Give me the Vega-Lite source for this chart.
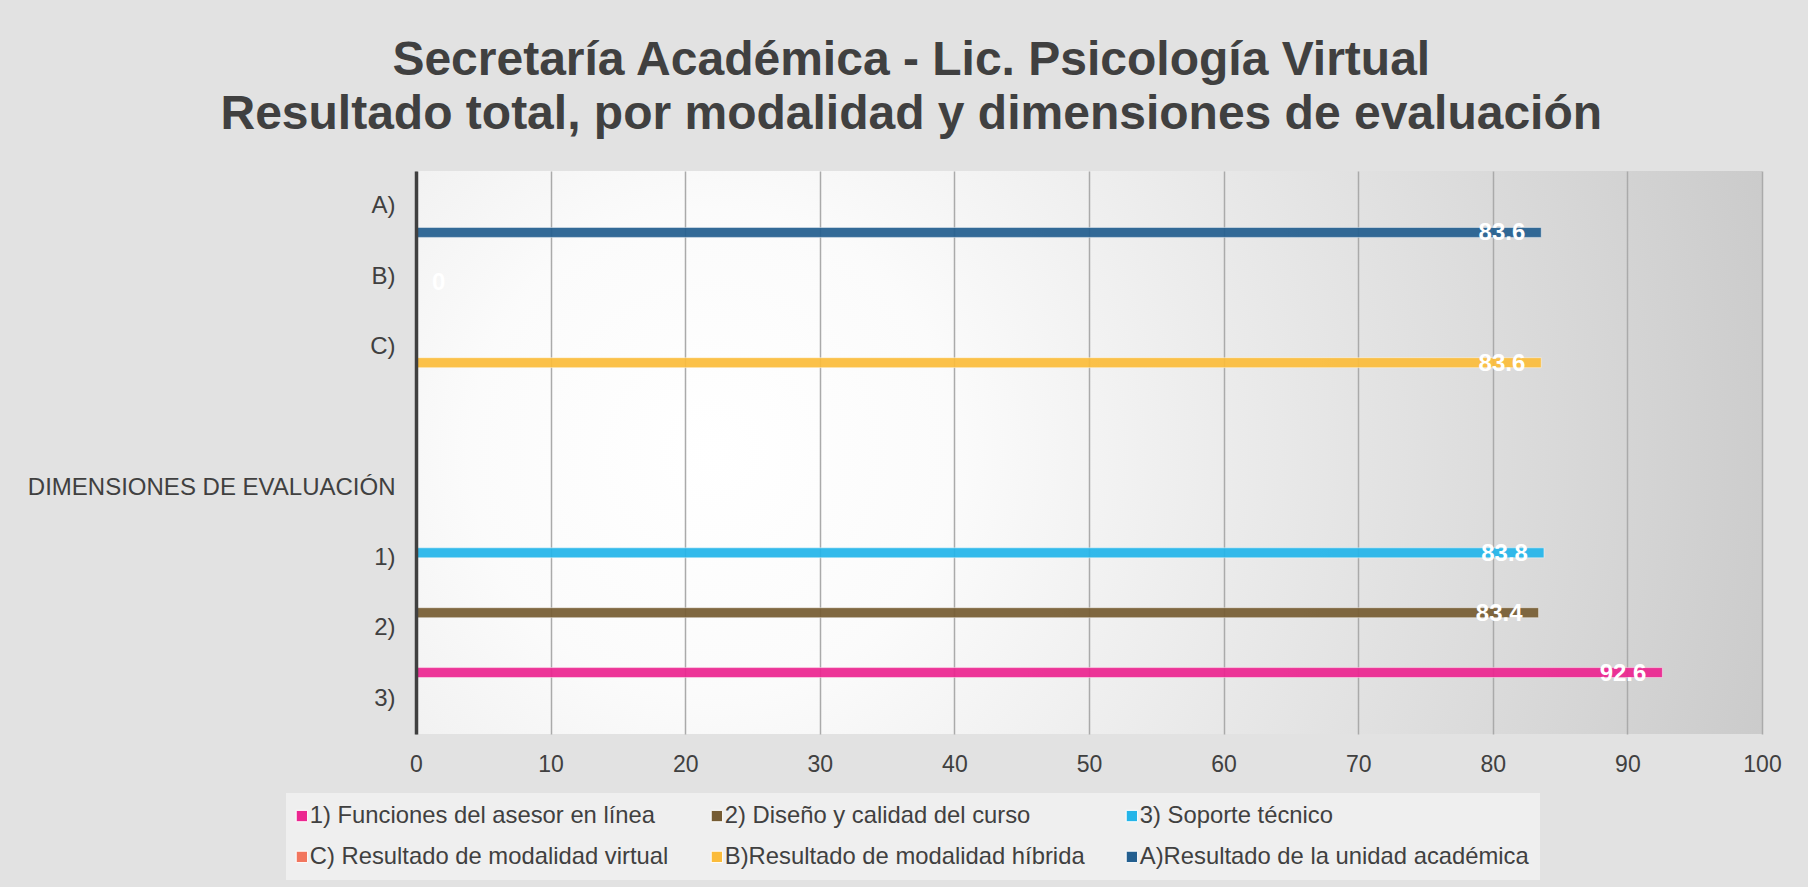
{
  "$schema": "https://vega.github.io/schema/vega-lite/v6.json",
  "width": 1346,
  "height": 563,
  "autosize": {"type": "none"},
  "padding": {"left": 416, "top": 171, "right": 46, "bottom": 153},
  "background": "#e2e2e2",
  "title": {
    "text": ["Secretaría Académica - Lic. Psicología Virtual", "Resultado total, por modalidad y dimensiones de evaluación"],
    "font": "Liberation Sans",
    "fontSize": 48,
    "fontWeight": "bold",
    "color": "#404040",
    "lineHeight": 54,
    "offset": 32,
    "dx": 7,
    "frame": "bounds",
    "anchor": "middle"
  },
  "data": {
    "values": [
      {"categoria": "A)", "serie": "A)Resultado de la unidad académica", "valor": 83.6},
      {"categoria": "B)", "serie": "C) Resultado de modalidad virtual", "valor": 0},
      {"categoria": "C)", "serie": "B)Resultado de modalidad híbrida", "valor": 83.6},
      {"categoria": "1)", "serie": "3) Soporte técnico", "valor": 83.8},
      {"categoria": "2)", "serie": "2) Diseño y calidad del curso", "valor": 83.4},
      {"categoria": "3)", "serie": "1) Funciones del asesor en línea", "valor": 92.6}
    ]
  },
  "encoding": {
    "y": {
      "field": "categoria",
      "type": "nominal",
      "title": null,
      "scale": {
        "domain": ["A)", "B)", "C)", " ", "DIMENSIONES DE EVALUACIÓN", "1)", "2)", "3)"],
        "paddingInner": 0,
        "paddingOuter": 0
      },
      "axis": {
        "domainColor": "#404040",
        "domainWidth": 3.5,
        "ticks": false,
        "grid": false,
        "labelFont": "Liberation Sans",
        "labelFontSize": 24,
        "labelColor": "#404040",
        "labelPadding": 21,
        "labelLimit": 600,
        "zindex": 1
      }
    },
    "yOffset": {
      "field": "serie",
      "type": "nominal",
      "scale": {
        "domain": ["1) Funciones del asesor en línea", "2) Diseño y calidad del curso", "3) Soporte técnico", "C) Resultado de modalidad virtual", "B)Resultado de modalidad híbrida", "A)Resultado de la unidad académica"],
        "paddingInner": 0.05,
        "paddingOuter": 0.377
      }
    },
    "x": {
      "field": "valor",
      "type": "quantitative",
      "title": null,
      "scale": {"domain": [0, 100], "nice": false},
      "axis": {
        "values": [0, 10, 20, 30, 40, 50, 60, 70, 80, 90, 100],
        "domain": false,
        "ticks": false,
        "grid": true,
        "gridColor": "#aaaaaa",
        "gridWidth": 1.5,
        "labelFont": "Liberation Sans",
        "labelFontSize": 23,
        "labelColor": "#404040",
        "labelPadding": 19,
        "labelFlush": false
      }
    }
  },
  "layer": [
    {
      "mark": {"type": "bar", "fillOpacity": 0.93, "stroke": "#ffffff", "strokeOpacity": 0.45, "strokeWidth": 1},
      "encoding": {
        "color": {
          "field": "serie",
          "type": "nominal",
          "scale": {
            "domain": ["1) Funciones del asesor en línea", "2) Diseño y calidad del curso", "3) Soporte técnico", "C) Resultado de modalidad virtual", "B)Resultado de modalidad híbrida", "A)Resultado de la unidad académica"],
            "range": ["#ec2690", "#765c33", "#24b5e9", "#f2765e", "#fbbc3b", "#245f8f"]
          },
          "legend": {
            "title": null,
            "orient": "none",
            "legendX": -130,
            "legendY": 622,
            "columns": 3,
            "direction": "horizontal",
            "gridAlign": "all",
            "columnPadding": 10,
            "rowPadding": 16,
            "symbolType": "square",
            "symbolSize": 130,
            "symbolOffset": -7,
            "symbolOpacity": 1,
            "symbolStrokeColor": "#ffffff",
            "symbolStrokeWidth": 1,
            "labelFont": "Liberation Sans",
            "labelFontSize": 23.8,
            "labelColor": "#404040",
            "labelOffset": -4,
            "labelLimit": 600,
            "padding": 11,
            "fillColor": "rgba(255,255,255,0.45)"
          }
        }
      }
    },
    {
      "transform": [{"filter": "datum.valor > 0"}],
      "mark": {"type": "text", "align": "right", "baseline": "middle", "dx": -16, "dy": 1, "font": "Liberation Sans", "fontSize": 24, "fontWeight": "bold", "color": "#ffffff"},
      "encoding": {"text": {"field": "valor", "type": "quantitative", "format": ".1f"}}
    },
    {
      "transform": [{"filter": "datum.valor == 0"}],
      "mark": {"type": "text", "align": "left", "baseline": "middle", "dx": 16, "dy": 1, "font": "Liberation Sans", "fontSize": 24, "fontWeight": "bold", "color": "#ffffff"},
      "encoding": {"text": {"field": "valor", "type": "quantitative", "format": "d"}}
    }
  ],
  "config": {
    "view": {
      "stroke": null,
      "fill": {
        "gradient": "radial",
        "x1": 0.22, "y1": 0.5, "r1": 0,
        "x2": 0.22, "y2": 0.5, "r2": 0.9,
        "stops": [
          {"offset": 0, "color": "#ffffff"},
          {"offset": 0.2, "color": "#fbfbfb"},
          {"offset": 1, "color": "#c4c4c4"}
        ]
      }
    }
  }
}
